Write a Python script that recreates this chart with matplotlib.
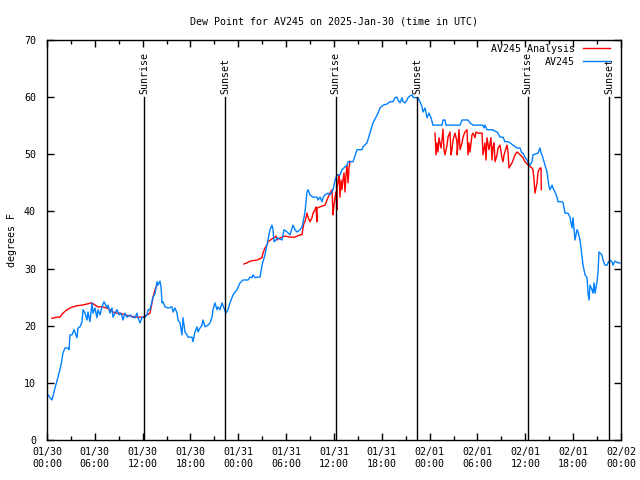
import numpy as np
import pandas as pd
import matplotlib
matplotlib.use("Agg")
import matplotlib.pyplot as plt
import matplotlib.dates as mdates

# hours after 2025-01-30 00:00 UTC, dew point in degrees F
obs_hours = [0.13, 0.38, 0.63, 1.0, 1.38, 1.76, 2.0, 2.26, 2.63, 2.76, 2.89, 3.14, 3.39, 3.76, 3.89, 4.14, 4.39, 4.52,
             4.77, 5.02, 5.14, 5.39, 5.64, 5.77, 6.02, 6.27, 6.40, 6.65, 6.90, 7.15, 7.53, 7.65, 7.90, 8.15, 8.28, 8.53,
             8.78, 9.03, 9.28, 9.53, 9.78, 10.04, 10.41, 10.66, 11.04, 11.29, 11.41, 11.67, 11.92, 12.04, 12.29, 12.54,
             12.67, 12.92, 13.17, 13.30, 13.55, 13.80, 13.92, 14.17, 14.30, 14.43, 14.55, 14.80, 15.18, 15.68, 15.81,
             16.06, 16.31, 16.43, 16.68, 16.93, 17.06, 17.31, 17.56, 17.69, 18.19, 18.31, 18.56, 18.82, 18.94, 19.19,
             19.44, 19.57, 19.82, 20.20, 20.45, 20.70, 20.82, 21.07, 21.32, 21.45, 21.70, 21.95, 22.20, 22.45, 22.70,
             22.96, 23.33, 23.83, 24.21, 24.59, 25.21, 25.46, 25.72, 25.84, 26.09, 26.34, 26.72, 26.97, 27.34, 27.72,
             27.97, 28.22, 28.35, 28.47, 28.73, 28.85, 29.48, 29.73, 30.11, 30.48, 30.86, 31.11, 31.36, 31.74, 31.99,
             32.11, 32.36, 32.61, 32.74, 32.99, 33.37, 33.87, 33.99, 34.25, 34.50, 34.62, 34.87, 35.25, 35.50, 35.88,
             36.13, 36.38, 36.75, 37.00, 37.63, 37.76, 38.38, 38.89, 39.51, 39.64, 40.14, 40.51, 40.89, 41.27, 41.52,
             41.77, 42.15, 42.65, 43.03, 43.40, 43.65, 43.90, 44.03, 44.28, 44.53, 44.66, 44.91, 45.16, 45.28, 45.53,
             45.79, 45.91, 46.16, 46.54, 46.79, 47.04, 47.17, 47.42, 47.67, 47.92, 48.17, 48.42, 49.55, 49.67, 49.92,
             50.05, 51.81, 52.06, 52.81, 53.06, 53.44, 54.69, 54.81, 54.94, 55.19, 55.82, 56.45, 56.57, 56.82, 57.20,
             57.45, 57.83, 58.08, 58.46, 58.96, 59.33, 59.58, 59.71, 59.96, 60.21, 60.34, 60.59, 60.84, 60.96, 61.59,
             61.84, 61.97, 62.09, 62.34, 62.72, 62.85, 62.97, 63.10, 63.35, 63.47, 63.72, 63.97, 64.10, 64.60, 64.73,
             64.98, 65.35, 65.60, 65.85, 65.98, 66.10, 66.23, 66.48, 66.61, 66.86, 67.11, 67.24, 67.49, 67.74, 67.86,
             67.99, 68.11, 68.36, 68.49, 68.62, 68.74, 68.99, 69.12, 69.24, 69.62, 69.74, 69.99, 70.25, 70.37, 70.62,
             70.87, 70.99, 71.25, 71.62, 71.87]
obs_dewpt = [7.9, 7.4, 7.0, 9.1, 11.0, 13.1, 15.2, 16.1, 16.1, 15.8, 18.4, 18.4, 19.3, 17.9, 19.6, 19.8, 20.7, 22.8,
             22.2, 21.0, 22.4, 20.7, 24.0, 22.2, 23.1, 21.4, 22.8, 21.9, 23.3, 24.2, 23.1, 23.6, 22.2, 23.1, 21.5, 22.2,
             22.8, 21.9, 22.2, 21.0, 22.2, 21.5, 21.9, 21.5, 21.4, 22.2, 21.4, 20.5, 21.5, 21.4, 21.5, 21.9,
             22.8, 22.8, 24.2, 25.0, 25.6, 27.7, 27.1, 27.8, 26.8, 24.0, 24.2, 23.3, 23.1, 23.3, 22.4,
             23.1, 22.2, 21.0, 20.5, 18.4, 21.4, 18.9, 18.4, 18.0, 18.0, 17.2, 18.9, 19.8, 18.9, 19.6,
             20.1, 21.0, 19.8, 20.1, 20.5, 21.5, 22.8, 24.0, 22.8, 23.3, 22.8, 24.0, 23.1, 22.2, 22.8,
             24.0, 25.4, 26.3, 27.5, 28.0, 28.0, 28.5, 28.4, 28.9, 28.4, 28.5, 28.5, 30.6, 32.4, 35.0,
             36.8, 37.6, 36.8, 34.7, 35.0, 35.4, 35.0, 36.8, 36.4, 35.9, 37.6, 36.8, 36.4, 36.8, 37.3,
             38.0, 39.9, 43.4, 43.8, 42.9, 42.5, 42.5, 42.0, 42.5, 41.7, 42.4, 42.9, 43.2, 42.9, 43.8,
             45.5, 46.4, 46.4, 47.3, 48.1, 48.7, 48.7, 50.8, 50.8, 51.3, 52.0, 53.7, 55.5, 56.5, 57.2,
             58.1, 58.6, 58.8, 59.2, 59.2, 59.9, 60.0, 59.5, 59.0, 59.9, 59.2, 59.0, 59.5, 59.9, 60.2,
             60.4, 60.0, 59.9, 59.9, 59.2, 58.3, 57.4, 58.1, 56.4, 57.2, 56.4, 55.1, 55.1, 56.0, 56.0,
             55.1, 55.1, 56.0, 56.0, 55.5, 55.1, 55.1, 54.6, 55.1, 54.3, 54.3, 53.9, 53.7, 53.0, 53.0,
             52.2, 52.2, 52.0, 51.6, 51.1, 51.1, 50.2, 50.2, 49.5, 49.0, 48.5, 48.1, 48.7, 49.9, 50.2,
             51.1, 50.2, 49.9, 48.7, 46.9, 45.5, 44.3, 43.8, 44.6, 44.1, 43.4, 42.5, 41.7, 41.7, 41.5,
             39.7, 39.7, 39.0, 37.1, 38.9, 37.1, 35.0, 36.8, 36.4, 35.0, 32.0, 30.6, 28.9, 28.4, 25.7,
             24.5, 27.1, 26.3, 25.7, 27.5, 25.7, 27.7, 29.4, 32.9, 32.4, 31.5, 30.6, 30.6, 31.0, 31.5,
             31.2, 30.6, 31.3, 31.0, 31.0]

# analysis, three separate runs
ana1_hours = [0.63, 1.25, 1.63, 2.0, 2.51, 2.89, 3.26, 3.76, 4.39, 5.02, 5.64, 6.02, 6.40, 6.90, 7.53, 7.90, 8.28,
              8.78, 9.16, 9.78, 10.41, 11.04, 11.67, 12.04, 12.54, 12.92, 13.17, 13.30, 13.55, 13.80]
ana1_dewpt = [21.3, 21.5, 21.5, 22.2, 22.8, 23.1, 23.3, 23.5, 23.6, 23.8, 24.0, 23.6, 23.3, 23.3, 23.1, 22.8, 22.4,
              22.2, 22.2, 21.9, 21.7, 21.5, 21.5, 21.5, 21.9, 22.2, 24.0, 25.0, 26.3, 27.1]
ana2_hours = [24.71, 25.09, 25.46, 26.34, 26.97, 27.09, 27.34, 27.59, 27.72, 28.22, 28.60, 28.73, 28.85, 28.98,
              29.48, 29.85, 30.48, 31.11, 31.74, 31.99, 32.11, 32.24, 32.36, 32.61, 32.74, 32.99, 33.24, 33.37,
              33.62, 33.74, 33.86, 33.88, 34.25, 34.87, 35.12, 35.50, 35.75, 35.88, 36.00, 36.13, 36.25, 36.37,
              36.40, 36.50, 36.63, 36.75, 36.88, 37.00, 37.13, 37.26, 37.38, 37.51, 37.63, 37.76, 37.88, 38.00]
ana2_dewpt = [30.8, 31.0, 31.3, 31.5, 31.9, 32.7, 33.6, 34.1, 34.7, 35.2, 35.5, 35.7, 35.0, 35.2,
              35.5, 35.7, 35.5, 35.5, 35.9, 35.9, 37.1, 38.0, 38.2, 39.7, 39.0, 38.2, 38.9, 39.7,
              40.3, 40.8, 38.2, 40.6, 40.8, 41.1, 42.0, 43.2, 43.8, 39.4, 41.1, 42.5, 43.4, 40.3,
              44.3, 45.2, 46.4, 42.5, 45.5, 43.8, 45.5, 46.7, 43.4, 46.4, 48.1, 45.0, 47.6, 48.8]
ana3_hours = [48.67, 48.80, 48.92, 49.05, 49.17, 49.42, 49.55, 49.67, 49.80, 49.92, 50.18, 50.30, 50.55, 50.68,
              50.80, 50.93, 51.18, 51.43, 51.45, 51.68, 51.81, 52.06, 52.18, 52.43, 52.68, 52.81, 52.93, 53.06,
              53.31, 53.44, 53.69, 53.81, 54.06, 54.57, 54.69, 54.94, 55.07, 55.19, 55.44, 55.69, 55.82, 55.94,
              56.07, 56.20, 56.45, 56.57, 56.82, 57.07, 57.20, 57.33, 57.70, 57.83, 57.95, 58.33, 58.71, 58.96,
              59.21, 59.71, 59.96, 60.34, 60.84, 60.96, 61.09, 61.21, 61.47, 61.59, 61.84, 61.97, 62.00]
ana3_dewpt = [53.7, 49.9, 52.0, 50.4, 52.9, 51.1, 52.5, 54.4, 50.8, 49.9, 51.6, 53.0, 53.9, 49.9,
              50.8, 52.5, 53.7, 52.2, 49.9, 54.3, 50.8, 52.0, 53.0, 53.9, 54.3, 49.9, 52.0, 50.4,
              53.4, 53.7, 52.9, 53.9, 53.7, 53.7, 49.9, 52.0, 49.0, 52.9, 50.8, 52.9, 49.0, 51.3,
              52.0, 48.7, 49.9, 51.1, 51.6, 49.4, 48.7, 49.9, 51.6, 50.4, 47.6, 48.5, 49.9, 50.4,
              50.1, 49.4, 48.7, 48.1, 47.6, 47.3, 45.5, 43.2, 45.0, 46.9, 47.6, 47.6, 43.8]

sun_times = ["2025-01-30 12:12", "2025-01-30 22:22", "2025-01-31 12:13",
             "2025-01-31 22:27", "2025-02-01 12:18", "2025-02-01 22:32"]
sun_labels = ["Sunrise", "Sunset", "Sunrise", "Sunset", "Sunrise", "Sunset"]

start = pd.Timestamp("2025-01-30 00:00")


def to_time(hours):
    return start + pd.to_timedelta(np.array(hours), unit="h")


def main():
    plt.rcParams["font.family"] = "DejaVu Sans Mono"
    fs = 7.2
    fig = plt.figure(figsize=(6.4, 4.8), dpi=100)
    ax = fig.add_axes([47 / 640, 40 / 480, 574 / 640, 400 / 480])

    red = "#ff0000"
    blue = "#0080ff"
    first = True
    for h, d in [(ana1_hours, ana1_dewpt), (ana2_hours, ana2_dewpt), (ana3_hours, ana3_dewpt)]:
        ax.plot(to_time(h), d, color=red, lw=1.0, label="AV245 Analysis" if first else None)
        first = False
    ax.plot(to_time(obs_hours), obs_dewpt, color=blue, lw=1.0, label="AV245")

    for t, lab in zip(sun_times, sun_labels):
        tt = pd.Timestamp(t)
        ax.plot([tt, tt], [0, 60], color="black", lw=1.0)
        ax.text(tt, 60.6, lab, rotation=90, ha="center", va="bottom", fontsize=fs)

    ax.set_xlim(start, start + pd.Timedelta(hours=72))
    ax.set_ylim(0, 70)
    ax.set_yticks(range(0, 71, 10))
    ax.xaxis.set_major_locator(mdates.HourLocator(byhour=[0, 6, 12, 18]))
    ax.xaxis.set_minor_locator(mdates.HourLocator(byhour=[3, 9, 15, 21]))
    ax.xaxis.set_major_formatter(mdates.DateFormatter("%m/%d\n%H:%M"))
    ax.tick_params(which="both", direction="in", top=True, right=True, labelsize=fs, width=1.0)
    ax.tick_params(which="major", length=5, pad=5)
    ax.tick_params(which="minor", length=3)
    ax.tick_params(axis="y", pad=8)
    for s in ax.spines.values():
        s.set_linewidth(1.0)

    ax.set_ylabel("degrees F", fontsize=fs, labelpad=5)
    ax.set_title("Dew Point for AV245 on 2025-Jan-30 (time in UTC)", fontsize=fs, pad=11)

    ax.legend(loc="upper right", bbox_to_anchor=(0.988, 1.0), frameon=False, markerfirst=False,
              fontsize=fs, handlelength=2.7, handletextpad=0.8, labelspacing=0.3,
              borderaxespad=0.0, borderpad=0.4)

    fig.savefig("out.png", dpi=100)


if __name__ == "__main__":
    main()
